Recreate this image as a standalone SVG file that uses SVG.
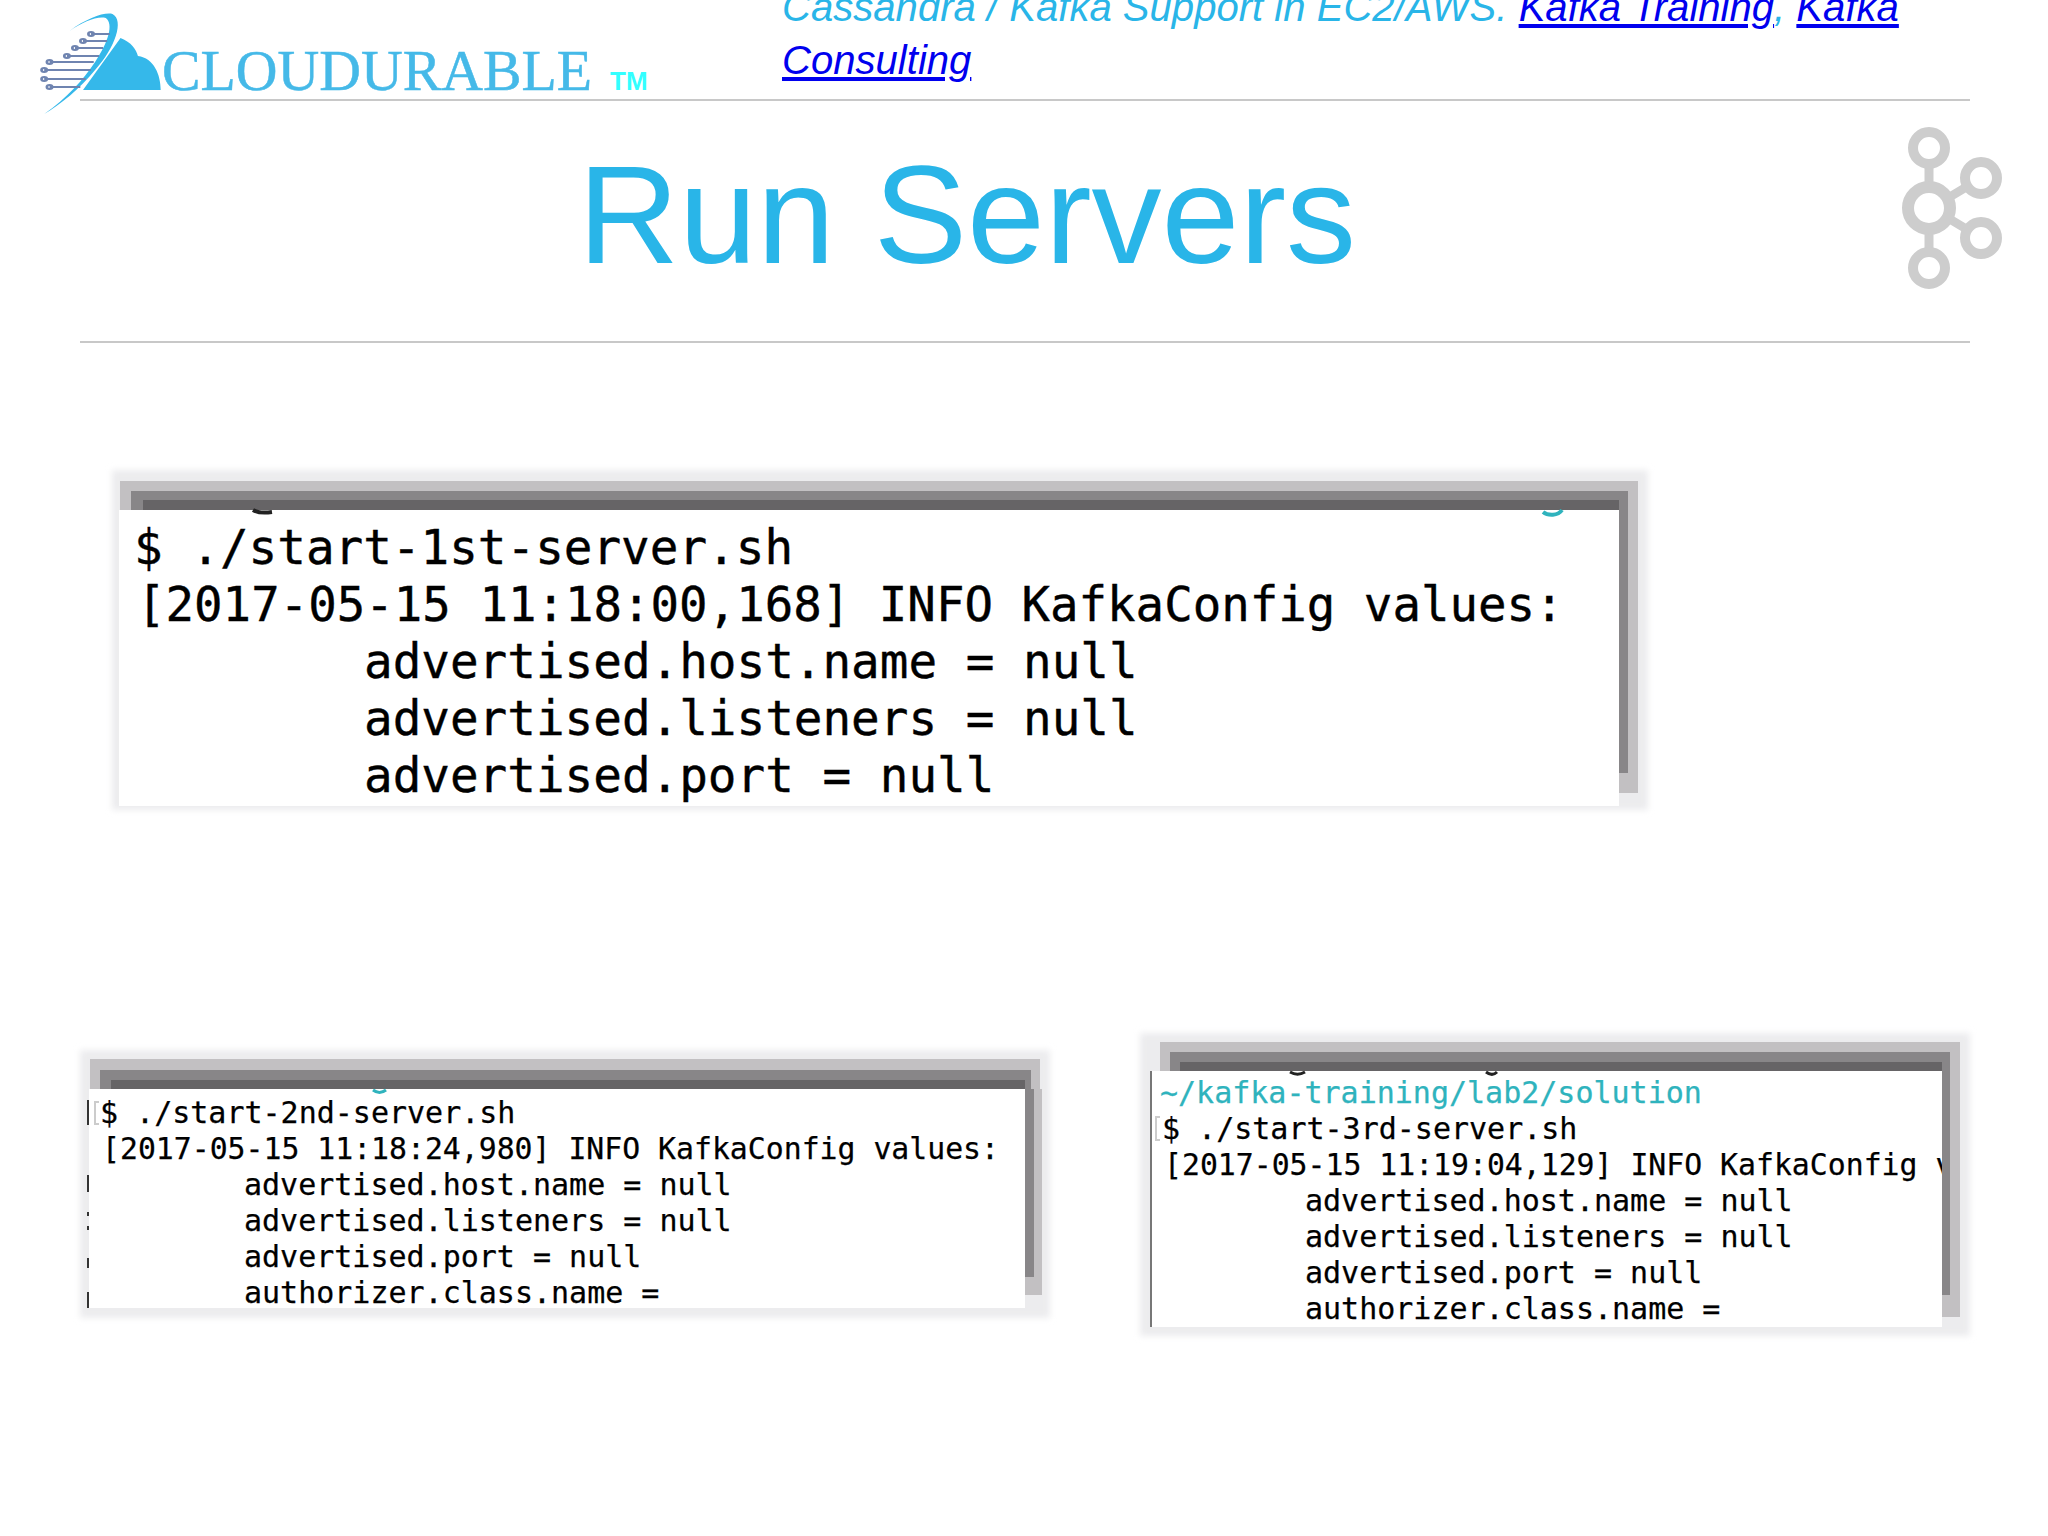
<svg xmlns="http://www.w3.org/2000/svg" width="2048" height="1536" viewBox="0 0 2048 1536">
<style>
.b1{fill:#c2c0c2}.b2{fill:#888688}.b3{fill:#666466}.sh{fill:#ececee;filter:url(#soft)}.w{fill:#fff}
.rule{fill:#c8c8c8}
.m1{font:47.4px "DejaVu Sans Mono",monospace;fill:#000;stroke:#000;stroke-width:.4}
.m1b{font-size:47.6px}
.m2{font:29.8px "DejaVu Sans Mono",monospace;fill:#000;stroke:#000;stroke-width:.25}
.m2b{font-size:30px}
.hd{font:italic 40.1px "Liberation Sans",Arial,sans-serif;fill:#29b5e8}
.lk{fill:#0000ee;text-decoration:underline}
.title{font:140px "Liberation Sans",Arial,sans-serif;fill:#29b5e8}
.kr{fill:none;stroke:#cdcdcd}
.cl{stroke:#6f84b0;stroke-width:2;fill:none}
</style>
<defs>
<clipPath id="c3"><rect x="1150" y="1071" width="792" height="256"/></clipPath>
<filter id="soft" x="-5%" y="-10%" width="110%" height="120%"><feGaussianBlur stdDeviation="3"/></filter>
</defs>
<rect width="2048" height="1536" fill="#fff"/>
<g id="logo">
<g transform="scale(1.339,1)">
<path d="M62 90L90 38C98 42 102 50 103 56C115 58 120 75 120 90Z" fill="#35b8ea"/>
<path d="M52 31C65 18 78 12 84 14C93 20 86 48 71 70C60 88 45 105 33 114C50 98 62 80 71 62C81 42 85 24 79 18C72 16 62 22 52 31Z" fill="#35b8ea"/>
<path class="cl" d="M68 34H82M62 41H80M56 48H77M50 56H74M37 62H70M33 70H68M33 79H64M37 87H60"/>
<g class="cl"><circle cx="68" cy="34" r="2"/><circle cx="62" cy="41" r="2"/><circle cx="56" cy="48" r="2"/><circle cx="50" cy="56" r="2"/><circle cx="37" cy="62" r="2"/><circle cx="33" cy="70" r="2"/><circle cx="33" cy="79" r="2"/><circle cx="37" cy="87" r="2"/></g>
</g>
<text x="162" y="90" font-family="'Liberation Serif',serif" font-size="58" fill="#45b9e8" stroke="#45b9e8" stroke-width=".5" textLength="430" lengthAdjust="spacingAndGlyphs">CLOUDURABLE</text>
<text x="610" y="90" font-family="'Liberation Sans',sans-serif" font-size="26" font-weight="bold" fill="#3ff">TM</text>
</g>
<rect class="rule" x="80" y="99" width="1890" height="2"/>
<rect class="rule" x="80" y="341" width="1890" height="2"/>
<g id="header">
<text class="hd" x="782" y="21">Cassandra / Kafka Support in EC2/AWS. <tspan class="lk">Kafka Training</tspan>, <tspan class="lk">Kafka</tspan></text>
<text class="hd" x="782" y="74"><tspan class="lk">Consulting</tspan></text>
</g>
<text class="title" x="578" y="263">Run Servers</text>
<g id="kafka-icon">
<path d="M1929 160V190M1929 226V256M1948 198L1968 186M1948 218L1968 230" stroke="#cdcdcd" stroke-width="9" fill="none"/>
<circle class="kr" cx="1929" cy="148" r="16" stroke-width="10"/>
<circle class="kr" cx="1929" cy="208" r="21" stroke-width="12"/>
<circle class="kr" cx="1929" cy="268" r="16" stroke-width="10"/>
<circle class="kr" cx="1981" cy="178" r="16" stroke-width="10"/>
<circle class="kr" cx="1981" cy="238" r="16" stroke-width="10"/>
</g>
<g id="terminal-1">
<rect class="sh" x="112" y="470" width="1536" height="340"/>
<rect class="b1" x="120" y="481" width="1518" height="29"/>
<rect class="b2" x="131" y="491" width="1497" height="19"/>
<rect class="b3" x="143" y="500" width="1476" height="10"/>
<rect class="b1" x="1628" y="510" width="10" height="283"/>
<rect class="b2" x="1619" y="510" width="9" height="263"/>
<rect class="b1" x="1619" y="773" width="9" height="20"/>
<rect class="w" x="119" y="510" width="1500" height="296"/>
<path d="M253 510C258 513 265 513 272 512" stroke="#222" stroke-width="4" fill="none"/>
<path d="M1543 512C1548 516 1558 516 1562 510" stroke="#2fb3bd" stroke-width="4" fill="none"/>
<text class="m1 m1b" x="134" y="564">$ ./start-1st-server.sh</text>
<text class="m1" x="137" y="621">[2017-05-15 11:18:00,168] INFO KafkaConfig values:</text>
<text class="m1 m1b" x="364" y="678">advertised.host.name = null</text>
<text class="m1 m1b" x="364" y="735">advertised.listeners = null</text>
<text class="m1 m1b" x="364" y="792">advertised.port = null</text>
</g>
<g id="terminal-2">
<rect class="sh" x="80" y="1050" width="970" height="268"/>
<rect class="b1" x="90" y="1059" width="950" height="30"/>
<rect class="b2" x="100" y="1070" width="931" height="19"/>
<rect class="b3" x="111" y="1080" width="914" height="9"/>
<rect class="b1" x="1034" y="1089" width="8" height="206"/>
<rect class="b2" x="1025" y="1089" width="9" height="188"/>
<rect class="b1" x="1025" y="1277" width="9" height="18"/>
<rect class="w" x="89" y="1089" width="936" height="219"/>
<path d="M88 1100V1125M88 1175V1192M88 1212V1216M88 1226V1230M88 1258V1268M88 1292V1308" stroke="#333" stroke-width="2" fill="none"/>
<path d="M99 1102H95V1124H99" stroke="#ccc" stroke-width="2" fill="none"/>
<path d="M373 1090C377 1093 382 1093 386 1090" stroke="#2fb3bd" stroke-width="3" fill="none"/>
<text class="m2 m2b" x="100" y="1123">$ ./start-2nd-server.sh</text>
<text class="m2" x="102" y="1159">[2017-05-15 11:18:24,980] INFO KafkaConfig values:</text>
<text class="m2 m2b" x="244" y="1195">advertised.host.name = null</text>
<text class="m2 m2b" x="244" y="1231">advertised.listeners = null</text>
<text class="m2 m2b" x="244" y="1267">advertised.port = null</text>
<text class="m2 m2b" x="244" y="1303">authorizer.class.name =</text>
</g>
<g id="terminal-3">
<rect class="sh" x="1140" y="1033" width="830" height="303"/>
<rect class="b1" x="1160" y="1042" width="800" height="29"/>
<rect class="b2" x="1170" y="1052" width="780" height="19"/>
<rect class="b3" x="1180" y="1062" width="762" height="9"/>
<rect class="b1" x="1950" y="1071" width="10" height="246"/>
<rect class="b2" x="1942" y="1071" width="8" height="224"/>
<rect class="b1" x="1942" y="1295" width="8" height="22"/>
<rect class="w" x="1150" y="1071" width="792" height="256"/>
<path d="M1151 1071V1327" stroke="#777" stroke-width="2" fill="none"/>
<path d="M1160 1117H1156V1140H1160" stroke="#ccc" stroke-width="2" fill="none"/>
<path d="M1290 1072C1295 1075 1300 1075 1305 1072M1486 1072C1490 1075 1494 1075 1497 1072" stroke="#222" stroke-width="3" fill="none"/>
<g clip-path="url(#c3)">
<text class="m2 m2b" x="1160" y="1103" style="fill:#2fb3bd;stroke:#2fb3bd">~/kafka-training/lab2/solution</text>
<text class="m2 m2b" x="1162" y="1139">$ ./start-3rd-server.sh</text>
<text class="m2" x="1164" y="1175">[2017-05-15 11:19:04,129] INFO KafkaConfig values:</text>
<text class="m2 m2b" x="1305" y="1211">advertised.host.name = null</text>
<text class="m2 m2b" x="1305" y="1247">advertised.listeners = null</text>
<text class="m2 m2b" x="1305" y="1283">advertised.port = null</text>
<text class="m2 m2b" x="1305" y="1319">authorizer.class.name =</text>
</g>
</g>
</svg>
